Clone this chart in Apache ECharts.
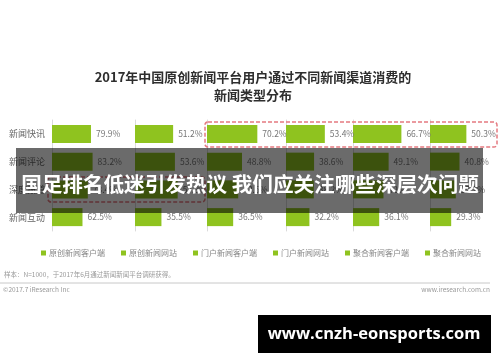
<!DOCTYPE html>
<html><head><meta charset="utf-8">
<script src="https://cdn.jsdelivr.net/npm/echarts@6/dist/echarts.min.js"></script>
<style>html,body{margin:0;padding:0;background:#fff}#c{width:500px;height:362px}</style>
</head><body><div id="c"></div>
<script>
const titleText = '2017年中国原创新闻平台用户通过不同新闻渠道消费的\n新闻类型分布';
const rows = ['新闻快讯', '新闻评论', '深度报道', '新闻互动'];
const channels = ['原创新闻客户端', '原创新闻网站', '门户新闻客户端', '门户新闻网站', '聚合新闻客户端', '聚合新闻网站'];
const origClient = [79.9, 83.2, 73.4, 62.5];
const origSite = [51.2, 53.6, 57.3, 35.5];
const portalClient = [70.2, 48.8, 43.5, 36.5];
const portalSite = [53.4, 38.6, 38.2, 32.2];
const aggClient = [66.7, 49.1, 42.0, 36.1];
const aggSite = [50.3, 40.8, 35.7, 29.3];
const seriesValues = [origClient, origSite, portalClient, portalSite, aggClient, aggSite];
const noteText = '样本：N=1000，于2017年6月通过新闻新闻平台调研获得。';
const copyText = '©2017.7 iResearch Inc';
const siteText = 'www.iresearch.com.cn';
const overlayText = '国足排名低迷引发热议 我们应关注哪些深层次问题';
const badgeText = 'www.cnzh-eonsports.com';

const FONT = '"Noto Sans CJK SC", "Noto Sans", sans-serif';
const GREEN = '#8fc31f';
const lefts = [52, 135, 207, 286, 353, 430];
const widths = [80, 70, 76, 64, 74, 60];
const maxes = [164, 94, 106, 88, 102, 83];

const grids = [], xAxes = [], yAxes = [], series = [];
for (let i = 0; i < 6; i++) {
  grids.push({left: lefts[i], width: widths[i], top: 120, height: 111});
  xAxes.push({type: 'value', gridIndex: i, min: 0, max: maxes[i], show: false});
  yAxes.push({type: 'category', gridIndex: i, data: rows, inverse: true,
    axisLine: {show: true, lineStyle: {color: '#dadada', width: 1}},
    axisTick: {show: false},
    axisLabel: {show: i === 0, fontSize: 9, color: '#666', margin: 7, fontFamily: FONT}});
  series.push({type: 'bar', name: channels[i], xAxisIndex: i, yAxisIndex: i,
    data: seriesValues[i], barWidth: 18,
    itemStyle: {color: GREEN},
    label: {show: true, position: 'right', distance: 5, formatter: '{c}%',
      fontSize: 8.5, color: '#777', fontFamily: FONT}});
}

const chart = echarts.init(document.getElementById('c'));
chart.setOption({
  backgroundColor: '#fff',
  animation: false,
  title: {text: titleText, left: 248, top: 63, textAlign: 'center',
    textStyle: {fontSize: 13, fontWeight: 'bold', color: '#2e2e2e', lineHeight: 18, fontFamily: FONT}},
  legend: {data: channels, left: 36, top: 244, width: 464, icon: 'rect', itemWidth: 5, itemHeight: 5,
    itemGap: 16, textStyle: {fontSize: 8, color: '#888', fontFamily: FONT, padding: [0, 0, 0, -2]}},
  grid: grids, xAxis: xAxes, yAxis: yAxes, series: series,
  graphic: [
    {type: 'rect', shape: {x: 205, y: 122, width: 292, height: 25, r: 3},
      style: {fill: 'none', stroke: '#e57a80', lineWidth: 1.5, lineDash: [4, 2]}, z: 50},
    {type: 'rect', shape: {x: 48, y: 177, width: 157, height: 25, r: 3},
      style: {fill: 'none', stroke: '#e57a80', lineWidth: 1.5, lineDash: [4, 2]}, z: 50},
    {type: 'text', left: 4, top: 271, style: {text: noteText, fontSize: 6.5, fill: '#999', fontFamily: FONT}, z: 50},
    {type: 'line', shape: {x1: 0, y1: 283, x2: 490, y2: 283}, style: {stroke: '#c8c8c8', lineWidth: 1}, z: 50},
    {type: 'text', left: 3, top: 286, style: {text: copyText, fontSize: 6.5, fill: '#999', fontFamily: FONT}, z: 50},
    {type: 'text', right: 10, top: 286, style: {text: siteText, fontSize: 6.5, fill: '#999', fontFamily: FONT}, z: 50},
    {type: 'rect', shape: {x: 16, y: 148, width: 467, height: 65},
      style: {fill: 'rgba(0,0,0,0.58)'}, z: 100},
    {type: 'text', x: 250, y: 184, style: {text: overlayText, fontSize: 20.6, fontWeight: 'bold', fill: '#fff',
      fontFamily: FONT, textAlign: 'center', textVerticalAlign: 'middle'}, z: 101},
    {type: 'rect', shape: {x: 258, y: 315, width: 233, height: 38}, style: {fill: '#000'}, z: 100},
    {type: 'text', x: 374, y: 334, style: {text: badgeText, fontSize: 16.5, fontWeight: 'bold', fill: '#fff',
      fontFamily: '"Open Sans", "DejaVu Sans", sans-serif', textAlign: 'center', textVerticalAlign: 'middle'}, z: 101}
  ]
});
</script></body></html>
